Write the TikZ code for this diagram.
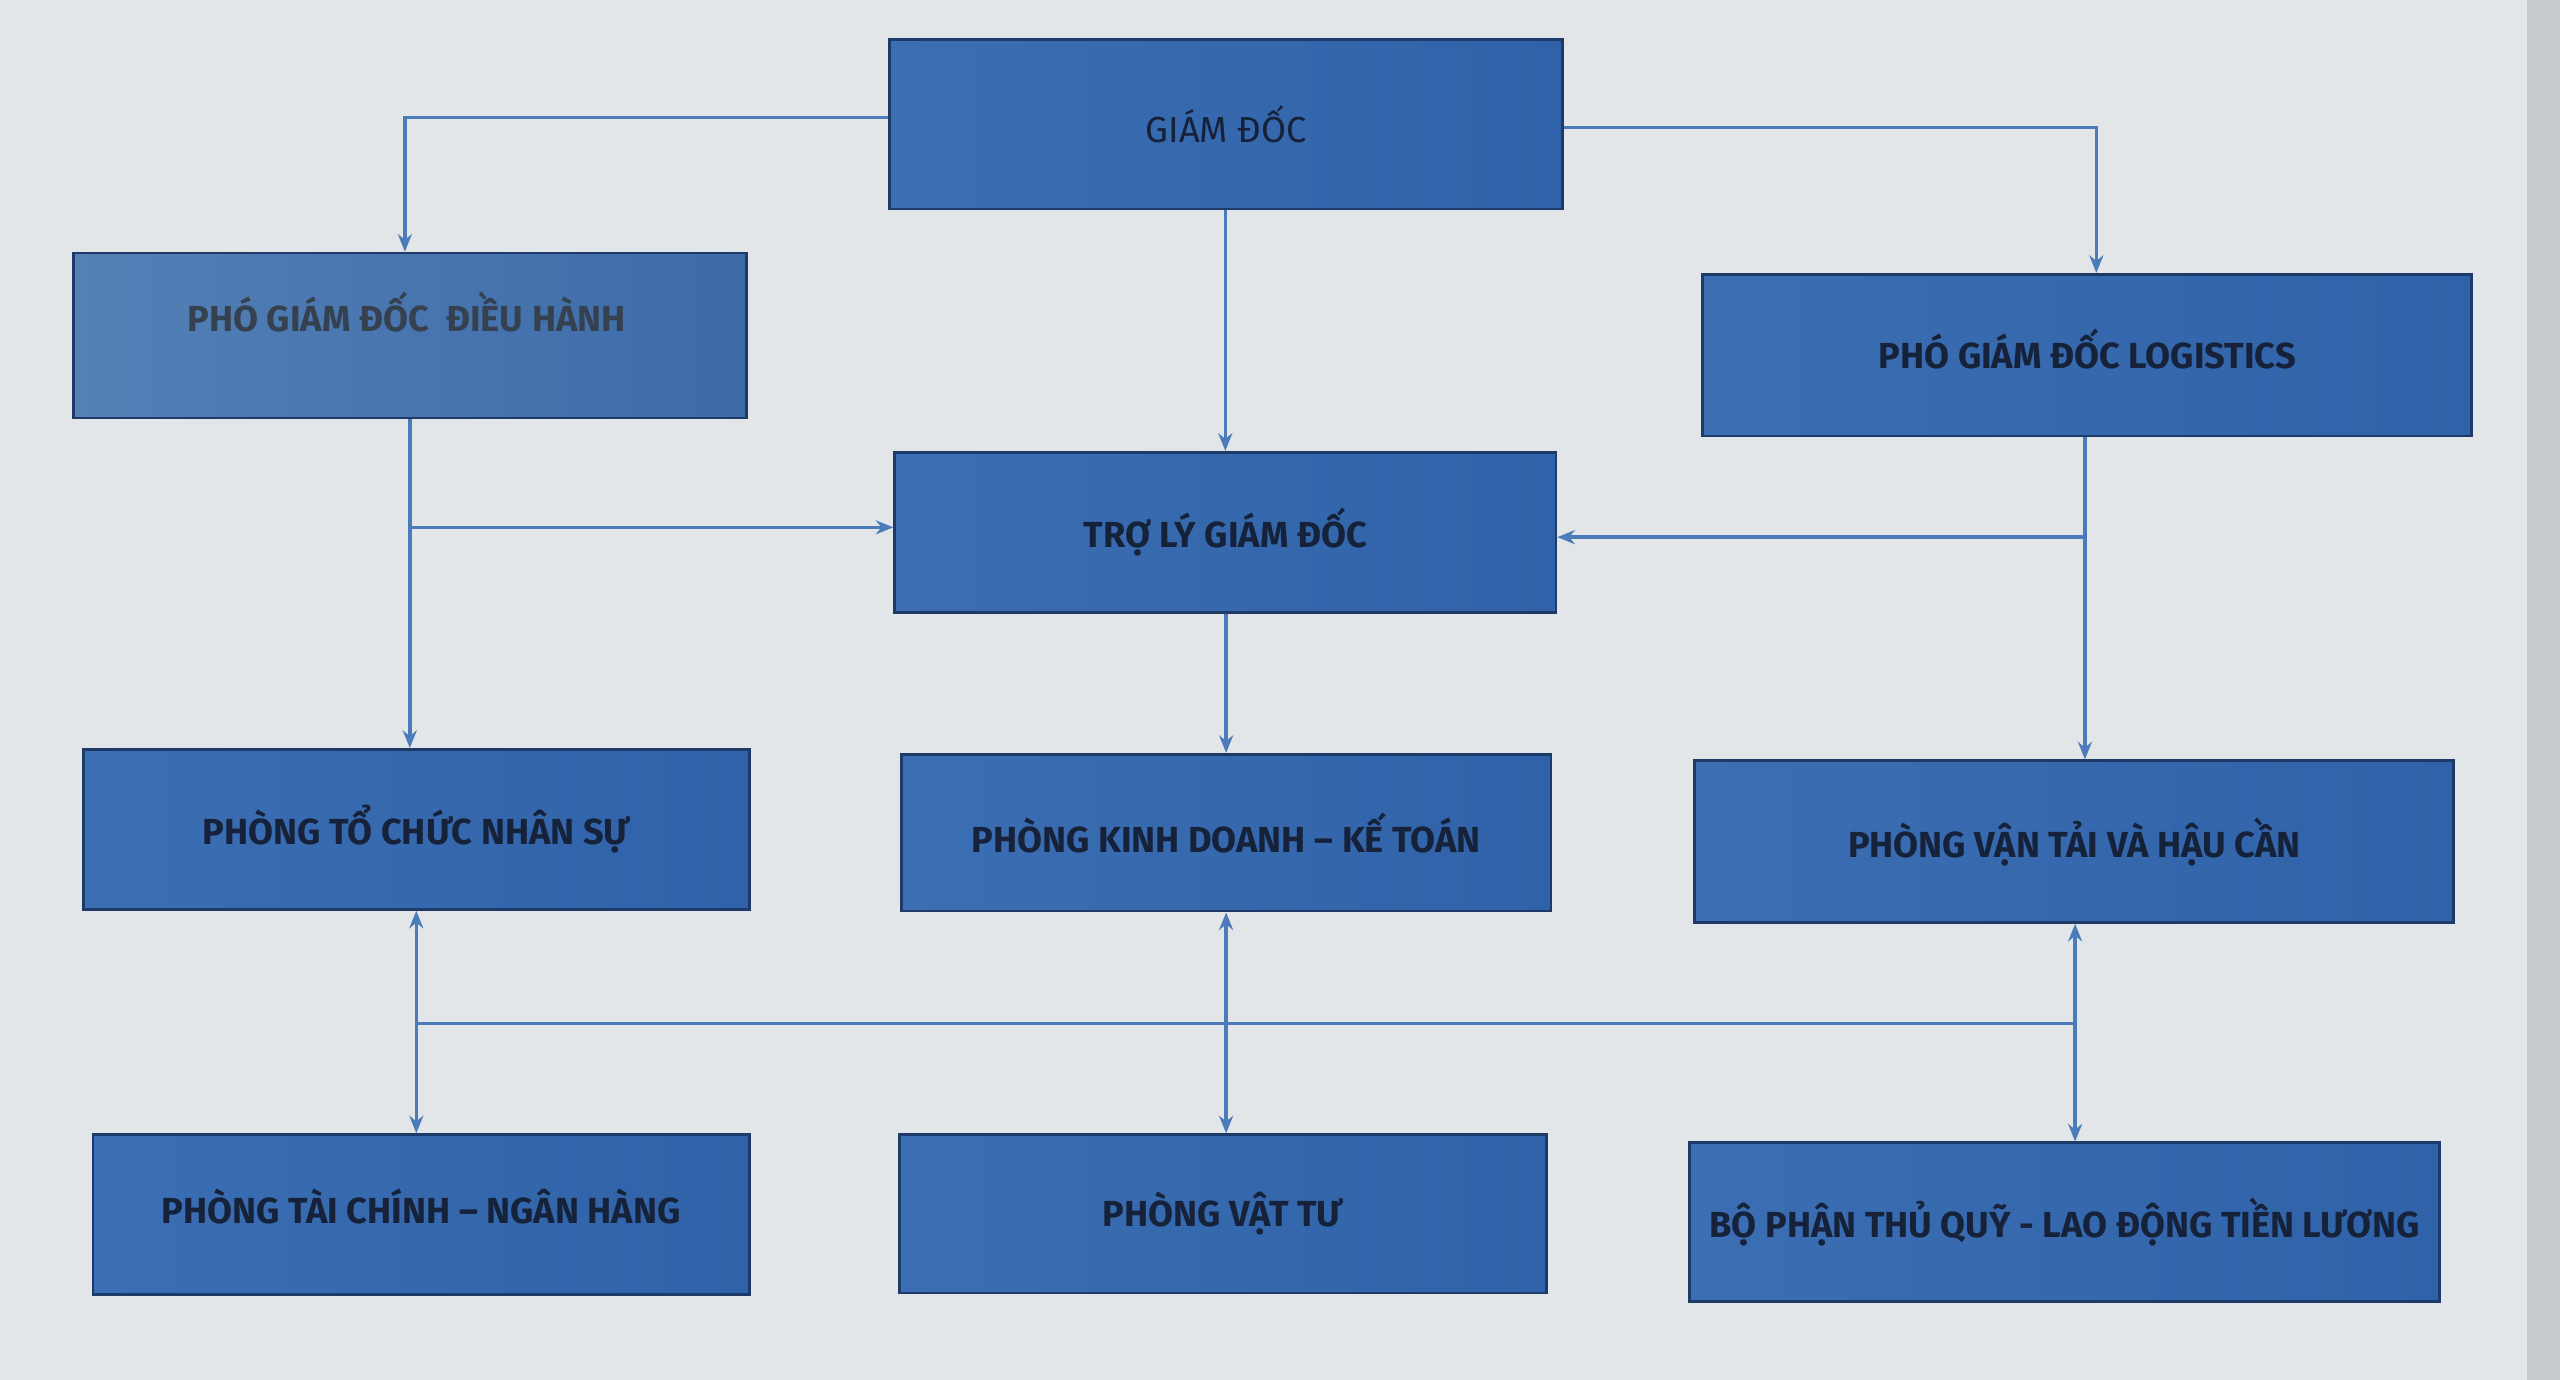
\documentclass[tikz,border=0pt]{standalone}
\usepackage{fontspec}
\setmainfont{Fira Sans}
\usetikzlibrary{arrows.meta}
\definecolor{bgc}{HTML}{E3E6E9}
\definecolor{edgec}{HTML}{C8CBCE}
\definecolor{boxl}{HTML}{3B6EB2}
\definecolor{boxr}{HTML}{2F62A8}
\definecolor{boxgl}{HTML}{5480B6}
\definecolor{boxgr}{HTML}{3D6BA8}
\definecolor{boxline}{HTML}{1E3A68}
\definecolor{connc}{HTML}{4C7BBA}
\definecolor{txtc}{HTML}{16213A}
\definecolor{txtg}{HTML}{36414F}
\newcommand{\uu}{0.016327cm}
\begin{document}
\begin{tikzpicture}[x=0.016327cm,y=-0.016327cm,
  box/.style={draw=boxline, line width=0.8pt, left color=boxl, right color=boxr,
    inner sep=0pt, text=txtc, font=\fontsize{10.3}{11}\selectfont\bfseries},
  graybox/.style={box, left color=boxgl, right color=boxgr},
  txt/.style={inner sep=0pt, text=txtg, font=\fontsize{10.3}{11}\selectfont\bfseries},
  conn/.style={draw=connc, line width=1pt},
  arr/.style={conn, -{Stealth[length=5pt,width=4pt]}},
  barr/.style={conn, {Stealth[length=5pt,width=4pt]}-{Stealth[length=5pt,width=4pt]}}]
\fill[bgc] (0,0) rectangle (1568,845);
\fill[edgec] (1548,0) rectangle (1568,845);
\useasboundingbox (0,0) rectangle (1568,845);

% boxes
\node[box, minimum width=412*\uu, minimum height=104*\uu, font=\fontsize{10.3}{11}\selectfont] (gd) at (751,76) {GIÁM ĐỐC};
\node[graybox, minimum width=412*\uu, minimum height=101*\uu] (pgdh) at (251,205.5) {};
\node[txt] (pgdht) at (249,191) {PHÓ GIÁM ĐỐC\ \ ĐIỀU HÀNH};
\node[box, minimum width=471*\uu, minimum height=99*\uu, text depth=8*\uu] (pglog) at (1278.5,217.5) {PHÓ GIÁM ĐỐC LOGISTICS};
\node[box, minimum width=405*\uu, minimum height=98*\uu] (tl) at (750.5,326) {TRỢ LÝ GIÁM ĐỐC};
\node[box, minimum width=408*\uu, minimum height=98*\uu] (pttc) at (255,508) {PHÒNG TỔ CHỨC NHÂN SỰ};
\node[box, minimum width=398*\uu, minimum height=96*\uu] (pkd) at (751,510) {PHÒNG KINH DOANH – KẾ TOÁN};
\node[box, minimum width=465*\uu, minimum height=99*\uu] (pvtai) at (1270.5,515.5) {PHÒNG VẬN TẢI VÀ HẬU CẦN};
\node[box, minimum width=402*\uu, minimum height=98*\uu, text depth=10*\uu] (ptc) at (258,744) {PHÒNG TÀI CHÍNH – NGÂN HÀNG};
\node[box, minimum width=396*\uu, minimum height=97*\uu] (pvt) at (749,743.5) {PHÒNG VẬT TƯ};
\node[box, minimum width=459*\uu, minimum height=97*\uu] (bp) at (1264.5,748.5) {BỘ PHẬN THỦ QUỸ - LAO ĐỘNG TIỀN LƯƠNG};

% coordinates
\coordinate (c1) at (248,72);
\coordinate (c2) at (1284,78);
\coordinate (c3) at (251,323);
\coordinate (c4) at (1277,329);
\coordinate (b1) at (255,627);
\coordinate (b2) at (751,627);
\coordinate (b3) at (1271,627);

% connectors
\draw[arr] (gd.west |- c1) -- (c1) -- (pgdh.north -| c1);
\draw[arr] (gd.east |- c2) -- (c2) -- (pglog.north -| c2);
\draw[arr] (gd.south -| tl.north) -- (tl.north);
\draw[arr] (pgdh.south -| c3) -- (pttc.north -| c3);
\draw[arr] (c3) -- (tl.west |- c3);
\draw[arr] (pglog.south -| c4) -- (pvtai.north -| c4);
\draw[arr] (c4) -- (tl.east |- c4);
\draw[arr] (tl.south -| pkd.north) -- (pkd.north);
\draw[conn] (b1) -- (b3);
\draw[barr] (pttc.south -| b1) -- (ptc.north -| b1);
\draw[barr] (pkd.south -| b2) -- (pvt.north -| b2);
\draw[barr] (pvtai.south -| b3) -- (bp.north -| b3);
\end{tikzpicture}
\end{document}
